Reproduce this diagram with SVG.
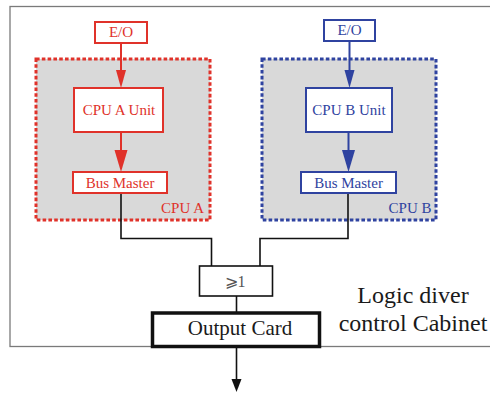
<svg xmlns="http://www.w3.org/2000/svg" width="490" height="394" viewBox="0 0 490 394">
  <defs>
    <style>
      .cabinet { fill: #ffffff; stroke: #7a7a7a; stroke-width: 1.3; }
      .red-zone { fill: #d9d9d9; stroke: #e0322a; stroke-width: 3; stroke-dasharray: 3.6 2.2; }
      .blue-zone { fill: #d9d9d9; stroke: #2f43a0; stroke-width: 3; stroke-dasharray: 3.6 2.2; }
      .red-box { fill: #ffffff; stroke: #e0322a; stroke-width: 2; }
      .blue-box { fill: #ffffff; stroke: #2f43a0; stroke-width: 2; }
      .red-line { stroke: #e0322a; stroke-width: 2; fill: none; }
      .blue-line { stroke: #2f43a0; stroke-width: 2; fill: none; }
      .black-line { stroke: #111111; stroke-width: 1.6; fill: none; }
      .or-box { fill: #ffffff; stroke: #111111; stroke-width: 1.6; }
      .out-box { fill: #ffffff; stroke: #111111; stroke-width: 3.5; }
    </style>
  </defs>

  <!-- cabinet outline (continues past the right edge) -->
  <rect class="cabinet" x="10" y="6.5" width="490" height="340"/>

  <!-- CPU A redundancy zone -->
  <g id="cpu-a">
    <rect class="red-zone" x="36" y="59" width="174" height="161"/>
    <text x="182.5" y="213" font-family="Liberation Serif" font-size="15" fill="#e0322a" text-anchor="middle">CPU A</text>
  </g>
  <!-- CPU B redundancy zone -->
  <g id="cpu-b">
    <rect class="blue-zone" x="262" y="59" width="174" height="161"/>
    <text x="410" y="213" font-family="Liberation Serif" font-size="15" fill="#2f43a0" text-anchor="middle">CPU B</text>
  </g>

  <g id="connectors">
    <!-- CPU A chain -->
    <line class="red-line" x1="121" y1="43" x2="121" y2="72"/>
    <polygon points="116,70 126,70 121,88" fill="#e0322a"/>
    <line class="red-line" x1="121" y1="132" x2="121" y2="152"/>
    <polygon points="114.5,150 127.5,150 121,172" fill="#e0322a"/>
    <!-- CPU B chain -->
    <line class="blue-line" x1="349.5" y1="41" x2="349.5" y2="72"/>
    <polygon points="344.5,70 354.5,70 349.5,88" fill="#2f43a0"/>
    <line class="blue-line" x1="348.5" y1="132" x2="348.5" y2="152"/>
    <polygon points="342,150 355,150 348.5,172" fill="#2f43a0"/>
    <!-- bus masters to the OR gate -->
    <polyline class="black-line" points="121,193 121,238.5 211.5,238.5 211.5,266"/>
    <polyline class="black-line" points="348,193 348,238.5 260,238.5 260,266"/>
    <!-- OR gate to output card -->
    <line class="black-line" x1="236.5" y1="296" x2="236.5" y2="313"/>
    <!-- output -->
    <line class="black-line" x1="236.5" y1="347" x2="236.5" y2="382"/>
    <polygon points="231.5,379 241.5,379 236.5,392" fill="#111111"/>
  </g>

  <g id="eo-a">
    <rect class="red-box" x="95" y="22" width="52" height="21"/>
    <text x="121" y="37" font-family="Liberation Serif" font-size="15" fill="#e0322a" text-anchor="middle">E/O</text>
  </g>
  <g id="cpu-a-unit">
    <rect class="red-box" x="74" y="88" width="89" height="44"/>
    <text x="119" y="115" font-family="Liberation Serif" font-size="15" fill="#e0322a" text-anchor="middle">CPU A Unit</text>
  </g>
  <g id="bus-master-a">
    <rect class="red-box" x="73" y="172" width="94" height="21"/>
    <text x="120" y="187.5" font-family="Liberation Serif" font-size="15" fill="#e0322a" text-anchor="middle">Bus Master</text>
  </g>

  <g id="eo-b">
    <rect class="blue-box" x="324" y="20" width="51" height="21"/>
    <text x="349.5" y="35" font-family="Liberation Serif" font-size="15" fill="#2f43a0" text-anchor="middle">E/O</text>
  </g>
  <g id="cpu-b-unit">
    <rect class="blue-box" x="306" y="88" width="86" height="44"/>
    <text x="349" y="115" font-family="Liberation Serif" font-size="15" fill="#2f43a0" text-anchor="middle">CPU B Unit</text>
  </g>
  <g id="bus-master-b">
    <rect class="blue-box" x="301" y="172" width="95" height="21"/>
    <text x="348.5" y="187.5" font-family="Liberation Serif" font-size="15" fill="#2f43a0" text-anchor="middle">Bus Master</text>
  </g>

  <g id="or-gate">
    <rect class="or-box" x="199.5" y="266" width="73" height="30"/>
    <text x="235" y="287" font-family="Liberation Serif" font-size="16" fill="#555555" text-anchor="middle">⩾1</text>
  </g>

  <g id="output-card">
    <rect class="out-box" x="152.5" y="313" width="167" height="33.5"/>
    <text x="240" y="335" font-family="Liberation Serif" font-size="21" fill="#1a1a1a" text-anchor="middle">Output Card</text>
  </g>

  <g id="cabinet-label">
    <text x="413" y="303" font-family="Liberation Serif" font-size="24" fill="#1a1a1a" text-anchor="middle">Logic diver</text>
    <text x="413" y="331" font-family="Liberation Serif" font-size="24" fill="#1a1a1a" text-anchor="middle">control Cabinet</text>
  </g>
</svg>
